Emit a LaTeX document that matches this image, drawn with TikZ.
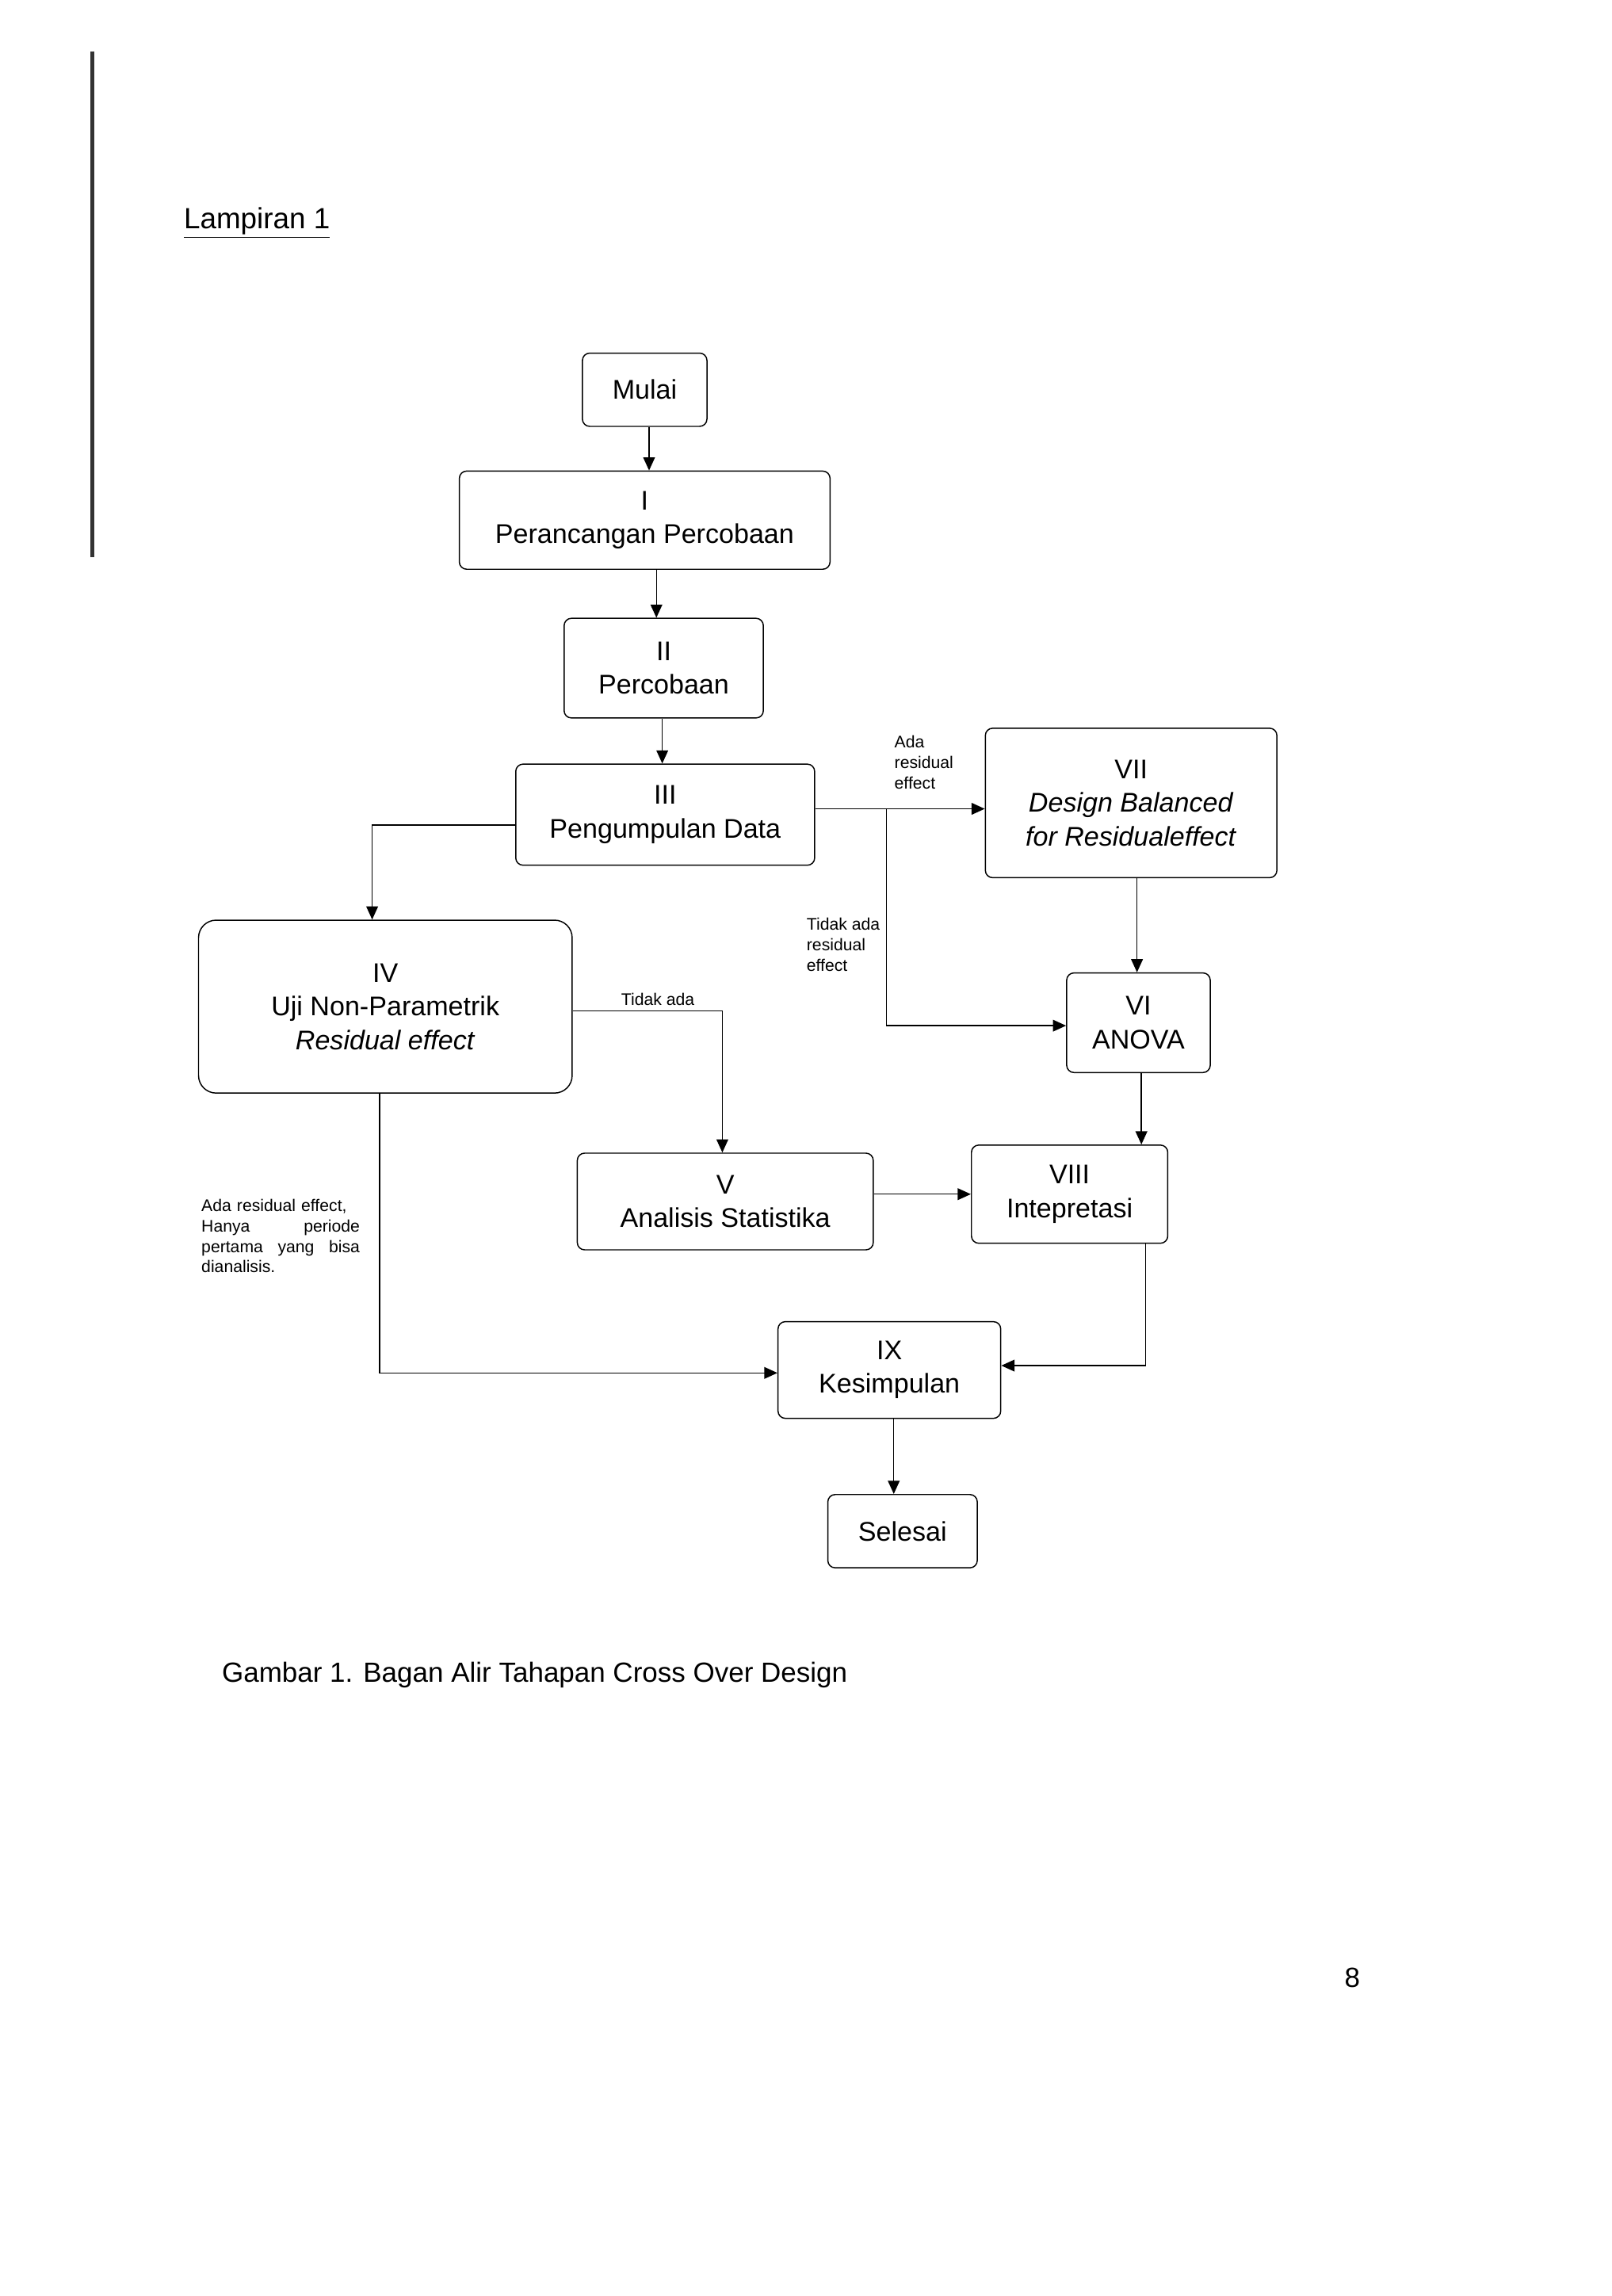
\documentclass[tikz,border=0pt]{standalone}
\usepackage{fontspec}
\setmainfont{Liberation Sans}
\usetikzlibrary{arrows.meta}
\begin{document}
\begin{tikzpicture}[x=1bp,y=-1bp,
  box/.style={draw,thick,rounded corners=5bp,align=center,font=\fontsize{18.5}{23}\selectfont,inner sep=0},
  arr/.style={thick,-{Triangle[length=9bp,width=8bp]}},
  lab/.style={font=\fontsize{11.5}{14}\selectfont,align=left}]
\useasboundingbox (0,0) rectangle (1100,1567);
\draw[line width=3bp,black!80] (63,35) -- (63,380);
\node[font=\fontsize{20}{24}\selectfont,anchor=west] (lamp) at (122,152) {\underline{Lampiran 1}};
\node[box,minimum width=85bp,minimum height=50bp] (mulai) at (440,266) {Mulai};
\node[box,minimum width=253bp,minimum height=67bp] (p1) at (440,355) {I\\Perancangan Percobaan};
\node[box,minimum width=136bp,minimum height=68bp] (p2) at (453,456) {II\\Percobaan};
\node[box,minimum width=204bp,minimum height=69bp] (p3) at (454,556) {III\\Pengumpulan Data};
\node[box,minimum width=199bp,minimum height=102bp] (p7) at (772,548) {VII\\\textit{Design Balanced}\\\textit{for Residualeffect}};
\node[box,rounded corners=12bp,minimum width=255bp,minimum height=118bp] (p4) at (263,687) {IV\\Uji Non-Parametrik\\\textit{Residual effect}};
\node[box,minimum width=98bp,minimum height=68bp] (p6) at (777,698) {VI\\ANOVA};
\node[box,minimum width=202bp,minimum height=66bp] (p5) at (495,820) {V\\Analisis Statistika};
\node[box,minimum width=134bp,minimum height=67bp] (p8) at (730,815) {VIII\\Intepretasi};
\node[box,minimum width=152bp,minimum height=66bp] (p9) at (607,935) {IX\\Kesimpulan};
\node[box,minimum width=102bp,minimum height=50bp] (sel) at (616,1045) {Selesai};
\coordinate (br) at (605,552);
\coordinate (c1) at (605,700);
\coordinate (c2) at (254,563);
\coordinate (c3) at (493,690);
\coordinate (c4) at (782,932);
\coordinate (c5) at (259,937);
\draw[arr] (mulai.south-|443,0) -- (p1.north-|443,0);
\draw[arr] (p1.south-|448,0) -- (p2.north-|448,0);
\draw[arr] (p2.south-|452,0) -- (p3.north-|452,0);
\draw[arr] (p3.east|-br) -- (p7.west|-br);
\draw[arr] (br) -- (c1) -- (p6.west|-c1);
\draw[arr] (p3.west|-c2) -- (c2) -- (c2|-p4.north);
\draw[arr] (p4.east|-c3) -- (c3) -- (c3|-p5.north);
\draw[arr] (p7.south-|776,0) -- (p6.north-|776,0);
\draw[arr] (p6.south-|779,0) -- (p8.north-|779,0);
\draw[arr] (p5.east|-0,815) -- (p8.west|-0,815);
\draw[arr] (p8.south-|c4) -- (c4) -- (p9.east|-c4);
\draw[arr] (p4.south-|c5) -- (c5) -- (p9.west|-c5);
\draw[arr] (p9.south-|610,0) -- (sel.north-|610,0);
\node[lab,anchor=south west] (l1) at (607,542) {Ada\\residual\\effect};
\node[lab,anchor=north east] (l2) at (604,623) {Tidak ada\\residual\\effect};
\node[lab,anchor=south] (l3) at (449,690) {Tidak ada};
\node[lab,anchor=north west,text width=108bp,align=left] (l4) at (134,815)
  {Ada residual effect,\\Hanya \hfill periode\\pertama \hfill yang \hfill bisa\\dianalisis.};
\node[font=\fontsize{19}{23}\selectfont,anchor=west] (cap) at (148,1143) {Gambar 1. Bagan Alir Tahapan Cross Over Design};
\node[font=\fontsize{19}{23}\selectfont\rmfamily] (pg) at (923,1350) {8};
\end{tikzpicture}
\end{document}
